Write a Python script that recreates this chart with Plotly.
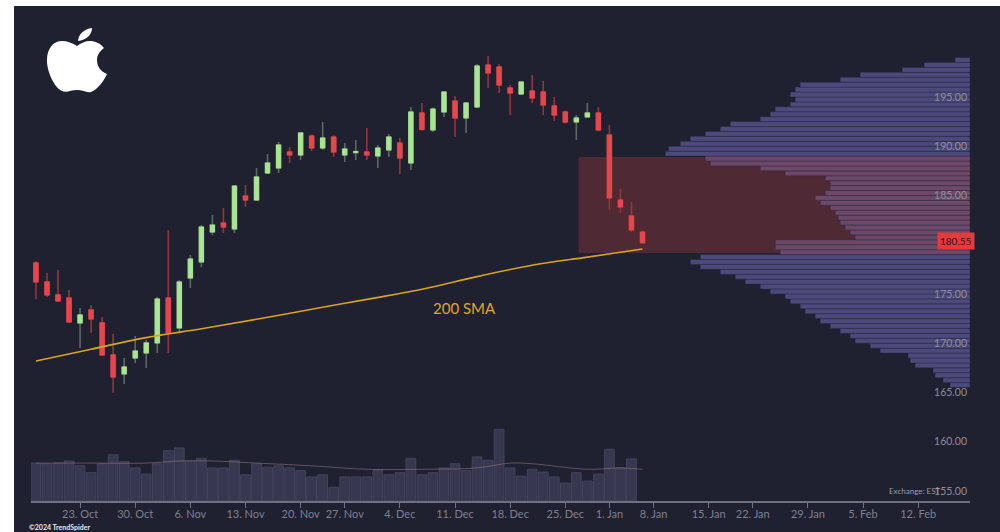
import numpy as np
import pandas as pd
import plotly.graph_objects as go

# ---------------- data ----------------
HOLIDAYS = ["2023-11-23", "2023-12-25", "2024-01-01", "2024-01-15"]
FIRST_SESSION = "2023-10-17"
AXIS_END = "2024-02-23"

OPEN = [178.15, 176.22, 174.90, 174.59, 172.06, 173.38, 172.06, 168.81, 166.88, 168.50,
        169.01, 170.03, 174.59, 171.55, 176.62, 178.25, 181.29, 182.21, 181.60, 184.95,
        184.54, 187.28, 187.79, 189.42, 189.11, 191.04, 189.82, 190.94, 189.11, 189.35,
        189.42, 189.01, 189.62, 190.33, 188.30, 193.38, 191.65, 193.48, 194.59, 192.87,
        193.98, 198.25, 198.05, 195.91, 195.30, 195.61, 195.51, 194.09, 193.48, 192.46,
        192.97, 193.38, 191.14, 184.54, 182.92, 181.29]
HIGH = [178.35, 177.13, 177.44, 175.41, 173.58, 173.88, 172.66, 170.94, 168.50, 170.74,
        170.33, 174.70, 181.50, 176.42, 178.96, 182.00, 183.02, 183.73, 186.07, 186.07,
        187.79, 189.21, 190.43, 189.92, 191.45, 191.20, 192.46, 191.10, 190.33, 190.63,
        191.85, 190.13, 191.24, 190.84, 193.98, 194.39, 193.90, 195.61, 195.10, 194.50,
        198.35, 199.16, 198.35, 196.22, 196.60, 197.23, 196.62, 195.00, 193.60, 193.17,
        194.39, 193.98, 192.16, 185.66, 184.34, 181.40]
LOW = [174.49, 174.70, 174.25, 172.06, 169.52, 171.04, 168.70, 164.95, 165.86, 168.00,
       167.49, 169.01, 169.01, 171.14, 175.61, 177.74, 180.99, 181.19, 181.19, 183.83,
       184.44, 187.18, 187.28, 188.30, 188.60, 189.52, 189.62, 188.91, 188.40, 188.60,
       188.60, 187.79, 188.91, 187.18, 187.59, 191.60, 191.45, 192.97, 190.94, 191.35,
       193.88, 195.91, 195.41, 193.17, 195.20, 194.39, 193.17, 192.56, 192.30, 190.63,
       192.90, 191.50, 183.53, 183.22, 181.29, 180.10]
CLOSE = [176.22, 174.90, 174.29, 172.16, 172.87, 172.46, 168.81, 166.57, 167.59, 169.21,
         170.03, 174.49, 171.04, 176.22, 178.55, 181.80, 182.00, 181.80, 185.96, 184.54,
         186.88, 188.30, 190.13, 189.11, 191.35, 189.82, 190.84, 189.42, 189.72, 189.45,
         189.11, 189.82, 190.94, 188.81, 193.48, 191.70, 193.78, 195.51, 192.87, 194.39,
         198.15, 197.44, 196.22, 195.41, 196.52, 194.90, 194.19, 193.17, 192.46, 192.87,
         193.38, 191.65, 184.75, 183.83, 181.50, 180.20]
# last session shows no volume bar yet
VOLUME_M = [55, 54, 55, 58, 51, 41, 54, 67, 57, 48, 39, 54, 73, 77, 58, 62, 48, 48, 59, 38,
            54, 49, 51, 48, 44, 35, 38, 20, 35, 35, 35, 45, 38, 41, 62, 38, 41, 48, 54, 44,
            64, 59, 104, 48, 36, 46, 42, 35, 26, 41, 29, 39, 75, 48, 61, None]
LAST_PRICE = 180.55

SMA_DATES = ["2023-10-17", "2023-10-24", "2023-10-31", "2023-11-07", "2023-11-14", "2023-11-21",
             "2023-11-29", "2023-12-06", "2023-12-13", "2023-12-20", "2023-12-28", "2024-01-05"]
SMA_200 = [168.20, 169.39, 170.57, 171.47, 172.43, 173.45, 174.45, 175.47, 176.76, 177.92,
           178.74, 179.57]

VOLMA_DATES = ["2023-10-17", "2023-10-24", "2023-10-31", "2023-11-03", "2023-11-08", "2023-11-14",
               "2023-11-21", "2023-11-29", "2023-12-06", "2023-12-13", "2023-12-18", "2023-12-20",
               "2023-12-28", "2024-01-03", "2024-01-05"]
VOL_MA = [55, 55, 55, 58, 58, 55, 51, 46, 46, 48, 55, 54, 46, 48, 46]

PROFILE_PRICE = list(np.arange(165.75, 199.0, 0.5))
PROFILE_VOL = [4.0, 5.4, 7.0, 7.4, 11.0, 12.0, 12.4, 18.0, 20.0, 23.0, 24.0, 26.0, 28.0, 30.0,
               31.0, 33.0, 34.0, 36.0, 37.0, 40.0, 42.0, 45.0, 47.0, 50.0, 54.0, 56.0, 54.0,
               38.0, 39.0, 39.0, 23.0, 24.0, 25.0, 26.0, 26.4, 27.0, 28.0, 30.0, 31.0, 29.0,
               28.0, 28.0, 29.0, 37.0, 42.0, 52.0, 53.0, 61.0, 60.4, 58.0, 56.0, 53.0, 50.0,
               48.0, 42.0, 40.0, 39.0, 36.0, 35.0, 36.0, 35.0, 34.0, 26.0, 22.0, 13.6, 9.2, 3.0]

ZONE_LOW, ZONE_HIGH = 179.15, 188.9
ZONE_START = "2023-12-27"

TICK_DATES = ["2023-10-23", "2023-10-30", "2023-11-06", "2023-11-13", "2023-11-20", "2023-11-27",
              "2023-12-04", "2023-12-11", "2023-12-18", "2023-12-25", "2024-01-01", "2024-01-08",
              "2024-01-15", "2024-01-22", "2024-01-29", "2024-02-05", "2024-02-12"]
TICK_LABELS = ["23. Oct", "30. Oct", "6. Nov", "13. Nov", "20. Nov", "27. Nov", "4. Dec",
               "11. Dec", "18. Dec", "25. Dec", "1. Jan", "8. Jan", "15. Jan", "22. Jan",
               "29. Jan", "5. Feb", "12. Feb"]
PRICE_TICKS = [155, 160, 165, 170, 175, 185, 190, 195]

# ---------------- trading-day scale ----------------
sessions = pd.bdate_range(FIRST_SESSION, AXIS_END, freq="C", holidays=HOLIDAYS)
def pos(dates):
    return sessions.searchsorted(pd.to_datetime(dates))

xi = np.arange(len(CLOSE))
tick_pos = pos(TICK_DATES)

BG = "#1f2030"
GREEN, RED = "#a8e692", "#e6474d"
GREEN_WICK, RED_WICK = "#5c6a5e", "#93363c"

fig = go.Figure()

# volume
fig.add_trace(go.Bar(x=xi, y=VOLUME_M, yaxis="y2", width=0.88,
                     marker=dict(color="#37374f", line=dict(color="#43435f", width=1))))
fig.add_trace(go.Scatter(x=pos(VOLMA_DATES), y=VOL_MA, yaxis="y2", mode="lines",
                         line=dict(color="rgba(170,125,140,0.5)", width=1, shape="spline")))

# volume profile
in_zone = [(ZONE_LOW <= p <= ZONE_HIGH) for p in PROFILE_PRICE]
fig.add_trace(go.Bar(x=PROFILE_VOL, y=PROFILE_PRICE, orientation="h", xaxis="x2", yaxis="y",
                     width=0.5,
                     marker=dict(color=["#6c4969" if z else "#4b4a7b" for z in in_zone],
                                 line=dict(color="rgba(35,35,55,0.45)", width=0.8))))

# 200 SMA
fig.add_trace(go.Scatter(x=pos(SMA_DATES), y=SMA_200, mode="lines",
                         line=dict(color="#d9a322", width=1.6, shape="spline")))

# candles: wicks then bodies
fig.add_trace(go.Candlestick(x=xi, open=OPEN, high=HIGH, low=LOW, close=CLOSE,
                             increasing=dict(line=dict(color=GREEN_WICK, width=1.6), fillcolor=GREEN),
                             decreasing=dict(line=dict(color=RED_WICK, width=1.6), fillcolor=RED)))
body_hi = [max(o, c) for o, c in zip(OPEN, CLOSE)]
body_lo = [min(o, c) for o, c in zip(OPEN, CLOSE)]
fig.add_trace(go.Candlestick(x=xi, open=OPEN, high=body_hi, low=body_lo, close=CLOSE,
                             increasing=dict(line=dict(color=GREEN, width=1), fillcolor=GREEN),
                             decreasing=dict(line=dict(color=RED, width=1), fillcolor=RED)))

# ---------------- layout ----------------
L, T, R, B = 31, 10, 30, 31
W, H = 1000 - L - R, 532 - T - B
def P(x, y):
    return f"{(x - L) / W:.4f},{(532 - B - y) / H:.4f}"

apple = ("M" + P(77, 46) + " C" + P(73, 43) + " " + P(67, 41) + " " + P(62, 41) +
         " C" + P(53, 41) + " " + P(47, 49) + " " + P(47, 60) +
         " C" + P(47, 73) + " " + P(55, 88) + " " + P(62, 91) +
         " C" + P(67, 93) + " " + P(71, 90) + " " + P(77, 90) +
         " C" + P(83, 90) + " " + P(86, 93) + " " + P(91, 92) +
         " C" + P(98, 89) + " " + P(104, 81) + " " + P(107, 74) +
         " C" + P(100, 71) + " " + P(97, 66) + " " + P(97, 60) +
         " C" + P(97, 55) + " " + P(100, 51) + " " + P(104, 48) +
         " C" + P(100, 43) + " " + P(95, 41) + " " + P(90, 41) +
         " C" + P(85, 41) + " " + P(81, 43) + " " + P(77, 46) + " Z")
leaf = ("M" + P(78, 41) + " C" + P(78, 35) + " " + P(84, 29) + " " + P(92, 28) +
        " C" + P(92, 35) + " " + P(86, 40) + " " + P(78, 41) + " Z")

x_lo, x_hi = -0.45, 84.7
shapes = [
    dict(type="rect", xref="x", yref="y", x0=pos([ZONE_START])[0] + 0.2, x1=x_hi,
         y0=ZONE_LOW, y1=ZONE_HIGH, fillcolor="#4f2a34", line=dict(width=0), layer="below"),
    dict(type="path", xref="paper", yref="paper", path=apple, fillcolor="white",
         line=dict(width=0), layer="above"),
    dict(type="path", xref="paper", yref="paper", path=leaf, fillcolor="white",
         line=dict(width=0), layer="above"),
    # white frame strips
    dict(type="rect", xref="paper", yref="paper", x0=(0 - L) / W, x1=(14 - L) / W,
         y0=(532 - B - 532) / H, y1=(532 - B) / H, fillcolor="white", line=dict(width=0), layer="above"),
    dict(type="rect", xref="paper", yref="paper", x0=(0 - L) / W, x1=(1000 - L) / W,
         y0=(532 - B - 6) / H, y1=(532 - B) / H, fillcolor="white", line=dict(width=0), layer="above"),
]

annotations = [
    dict(x=38.9, y=173.6, xref="x", yref="y", text="200 SMA", showarrow=False,
         font=dict(family="Lato", size=15, color="#e0a72a")),
    dict(x=(975 - L) / W, y=LAST_PRICE, xref="paper", yref="y", text="180.55", showarrow=False,
         xanchor="right", yanchor="middle", bgcolor="#e8383d", borderpad=2, yshift=-2,
         font=dict(family="Lato", size=10, color="#3d0d10")),
    dict(x=(942 - L) / W, y=(501 - 498) / H, xref="paper", yref="paper", text="Exchange: EST",
         showarrow=False, font=dict(family="Lato", size=8, color="#9c9eaa")),
    dict(x=(27 - L) / W, y=(501 - 527) / H, xref="paper", yref="paper", text="<b>©2024 TrendSpider</b>",
         showarrow=False, xanchor="left", yanchor="middle",
         font=dict(family="Lato", size=7, color="#e8e8ee")),
]

fig.update_layout(
    width=1000, height=532,
    margin=dict(l=L, r=R, t=T, b=B),
    paper_bgcolor=BG, plot_bgcolor=BG,
    showlegend=False, hovermode=False,
    boxgap=0.45,
    font=dict(family="Lato", color="#8a8c99"),
    xaxis=dict(range=[x_lo, x_hi], tickvals=list(tick_pos), ticktext=TICK_LABELS,
               ticks="outside", ticklen=5, tickcolor="#6f7180", showline=True,
               linecolor="#6f7180", linewidth=1.5, showgrid=False, zeroline=False,
               ticklabelstandoff=-3,
               tickfont=dict(size=11, color="#7f8190"), rangeslider=dict(visible=False)),
    xaxis2=dict(overlaying="x", anchor="y", range=[188, 0], visible=False),
    yaxis=dict(range=[153.98, 203.83], side="right", ticklabelposition="inside",
               tickvals=PRICE_TICKS, ticktext=[f"{v:.2f}" for v in PRICE_TICKS],
               showgrid=False, zeroline=False, ticks="",
               tickfont=dict(size=10.5, color="#8d8f9c")),
    yaxis2=dict(overlaying="y", range=[0, 712], visible=False),
    shapes=shapes, annotations=annotations,
)

fig.write_html("out.html", config={"displayModeBar": False},
               post_script="document.body.style.margin='0';")
